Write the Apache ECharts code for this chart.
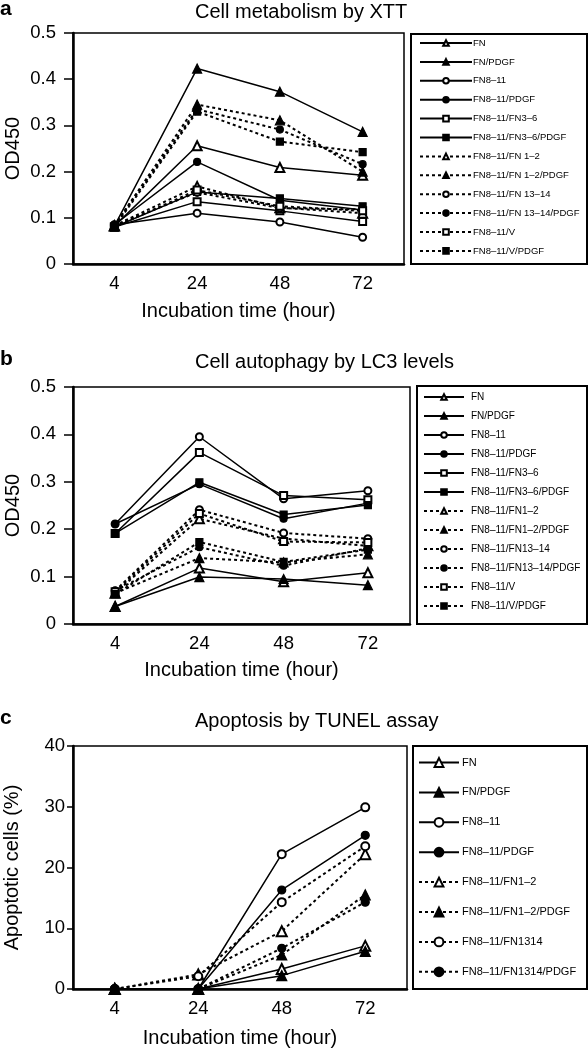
<!DOCTYPE html>
<html><head><meta charset="utf-8">
<script src="https://cdn.jsdelivr.net/npm/echarts@6/dist/echarts.min.js"></script>
<style>html,body{margin:0;padding:0;background:#fff}#c{width:588px;height:1050px}</style>
</head><body><div id="c"></div><script>
// ---- data ----
const hours = ['4', '24', '48', '72'];

const namesXTT = ['FN', 'FN/PDGF', 'FN8–11', 'FN8–11/PDGF', 'FN8–11/FN3–6', 'FN8–11/FN3–6/PDGF',
  'FN8–11/FN 1–2', 'FN8–11/FN 1–2/PDGF', 'FN8–11/FN 13–14', 'FN8–11/FN 13–14/PDGF', 'FN8–11/V', 'FN8–11/V/PDGF'];
const valuesXTT = [
  [0.082, 0.256, 0.209, 0.192],
  [0.082, 0.423, 0.373, 0.286],
  [0.085, 0.110, 0.091, 0.058],
  [0.085, 0.221, 0.138, 0.117],
  [0.080, 0.135, 0.115, 0.092],
  [0.080, 0.156, 0.142, 0.125],
  [0.083, 0.168, 0.122, 0.110],
  [0.083, 0.345, 0.311, 0.200],
  [0.083, 0.155, 0.121, 0.118],
  [0.083, 0.335, 0.291, 0.216],
  [0.080, 0.160, 0.125, 0.115],
  [0.080, 0.330, 0.265, 0.242]
];

const namesLC3 = ['FN', 'FN/PDGF', 'FN8–11', 'FN8–11/PDGF', 'FN8–11/FN3–6', 'FN8–11/FN3–6/PDGF',
  'FN8–11/FN1–2', 'FN8–11/FN1–2/PDGF', 'FN8–11/FN13–14', 'FN8–11/FN13–14/PDGF', 'FN8–11/V', 'FN8–11/V/PDGF'];
const valuesLC3 = [
  [0.037, 0.118, 0.089, 0.108],
  [0.037, 0.099, 0.095, 0.082],
  [0.211, 0.395, 0.264, 0.281],
  [0.211, 0.295, 0.222, 0.255],
  [0.191, 0.362, 0.271, 0.262],
  [0.191, 0.299, 0.231, 0.251],
  [0.065, 0.222, 0.180, 0.165],
  [0.065, 0.139, 0.130, 0.147],
  [0.070, 0.241, 0.192, 0.180],
  [0.070, 0.162, 0.123, 0.160],
  [0.068, 0.233, 0.174, 0.172],
  [0.063, 0.173, 0.131, 0.157]
];

const namesTUNEL = ['FN', 'FN/PDGF', 'FN8–11', 'FN8–11/PDGF',
  'FN8–11/FN1–2', 'FN8–11/FN1–2/PDGF', 'FN8–11/FN1314', 'FN8–11/FN1314/PDGF'];
const valuesTUNEL = [
  [0, 0, 3.3, 7.1],
  [0, 0, 2.2, 6.2],
  [0, 0, 22.2, 29.9],
  [0, 0, 16.3, 25.3],
  [0, 2.4, 9.5, 22.2],
  [0, 0, 5.6, 15.5],
  [0, 2.1, 14.3, 23.5],
  [0, 0, 6.7, 14.3]
];

const titles = ['Cell metabolism by XTT', 'Cell autophagy by LC3 levels', 'Apoptosis by TUNEL assay'];
const panelLetters = ['a', 'b', 'c'];
const yNames = ['OD450', 'OD450', 'Apoptotic cells (%)'];
const xName = 'Incubation time (hour)';
const yMax = [0.5, 0.5, 40];
const yStep = [0.1, 0.1, 10];

// ---- styling / layout ----
const FONT = 'Liberation Sans, Arial, Helvetica, sans-serif';
const shapes6 = ['emptyTriangle', 'triangle', 'emptyCircle', 'circle', 'emptyRect', 'rect'];
const shapes4 = ['emptyTriangle', 'triangle', 'emptyCircle', 'circle'];

const grids = [
  { left: 73, top: 33, width: 331, height: 231 },
  { left: 73, top: 387, width: 337, height: 237 },
  { left: 73, top: 746, width: 334, height: 243 }
];
const boxes = [
  { x: 411, y: 34, w: 176, h: 230 },
  { x: 417, y: 386, w: 170, h: 238 },
  { x: 413, y: 746, w: 174, h: 243 }
];
const titleTops = [2, 352, 711];
const letterTops = [-1, 349, 708];
const xNameGaps = [37, 36, 39];
const yNameGaps = [50, 50, 51];
const labelMargins = [17, 17, 8];
const tickLens = [9, 9, 6];

function buildSeries(panel, names, values, shapes, half, size) {
  return names.map((n, i) => {
    const dotted = i >= half;
    const shape = shapes[i % shapes.length];
    return {
      type: 'line', name: n, xAxisIndex: panel, yAxisIndex: panel,
      data: values[i],
      symbol: shape, symbolSize: /riangle/.test(shape) ? size + 2 : size,
      lineStyle: { color: '#000', width: dotted ? 2 : 1.5, type: dotted ? [3, 3] : 'solid' },
      itemStyle: { color: '#000', borderColor: '#000', borderWidth: 1.2 },
      emphasis: { disabled: true }
    };
  });
}

const series = [].concat(
  buildSeries(0, namesXTT, valuesXTT, shapes6, 6, 7),
  buildSeries(1, namesLC3, valuesLC3, shapes6, 6, 7),
  buildSeries(2, namesTUNEL, valuesTUNEL, shapes4, 4, 8)
);

const option = {
  animation: false,
  backgroundColor: '#fff',
  textStyle: { fontFamily: FONT, color: '#000' },
  title: [].concat(
    titles.map((t, i) => ({ text: t, left: 195, top: titleTops[i], padding: 0,
      textStyle: { fontFamily: FONT, fontSize: 20, fontWeight: 'normal', color: '#000' } })),
    panelLetters.map((t, i) => ({ text: t, left: 0, top: letterTops[i], padding: 0,
      textStyle: { fontFamily: FONT, fontSize: 21, fontWeight: 'bold', color: '#000' } }))
  ),
  grid: grids.map(g => Object.assign({ show: true, borderColor: '#000', borderWidth: 1.5,
    backgroundColor: 'transparent', containLabel: false, outerBoundsMode: 'none' }, g)),
  xAxis: grids.map((g, i) => ({
    type: 'category', gridIndex: i, data: hours, boundaryGap: true,
    name: xName, nameLocation: 'middle', nameGap: xNameGaps[i], nameMoveOverlap: false,
    nameTextStyle: { fontFamily: FONT, fontSize: 20, color: '#000' },
    axisLine: { lineStyle: { color: '#000', width: 2.5 } },
    axisTick: { show: false },
    axisLabel: { fontFamily: FONT, fontSize: 18.5, color: '#000', margin: 10 },
    splitLine: { show: false }
  })),
  yAxis: grids.map((g, i) => ({
    type: 'value', gridIndex: i, min: 0, max: yMax[i], interval: yStep[i],
    name: yNames[i], nameLocation: 'middle', nameRotate: 90, nameGap: yNameGaps[i], nameMoveOverlap: false,
    nameTextStyle: { fontFamily: FONT, fontSize: 20, color: '#000' },
    axisLine: { show: true, lineStyle: { color: '#000', width: 2.5 } },
    axisTick: { show: true, length: tickLens[i], lineStyle: { color: '#000', width: 1.5 } },
    axisLabel: { fontFamily: FONT, fontSize: 18.5, color: '#000', margin: labelMargins[i] },
    splitLine: { show: false }
  })),
  legend: [
    { data: namesXTT, orient: 'vertical', left: 419, top: 38, itemWidth: 52, itemHeight: 7, itemGap: 8.9,
      textStyle: { fontFamily: FONT, fontSize: 9.5, color: '#000', padding: [0, 0, 0, -4] }, padding: 0, selectedMode: false },
    { data: namesLC3, orient: 'vertical', left: 423, top: 392, itemWidth: 40, itemHeight: 7, itemGap: 9,
      textStyle: { fontFamily: FONT, fontSize: 10, color: '#000', padding: [0, 0, 0, 2] }, padding: 0, selectedMode: false },
    { data: namesTUNEL, orient: 'vertical', left: 418, top: 757, itemWidth: 40, itemHeight: 11, itemGap: 18.9,
      textStyle: { fontFamily: FONT, fontSize: 11, color: '#000', padding: [0, 0, 0, -2] }, padding: 0, selectedMode: false }
  ],
  graphic: boxes.map(b => ({ type: 'rect', shape: { x: b.x, y: b.y, width: b.w, height: b.h },
    style: { fill: 'none', stroke: '#000', lineWidth: 2 }, silent: true })),
  series: series
};

const chart = echarts.init(document.getElementById('c'), null, { renderer: 'canvas' });
chart.setOption(option);
</script></body></html>
